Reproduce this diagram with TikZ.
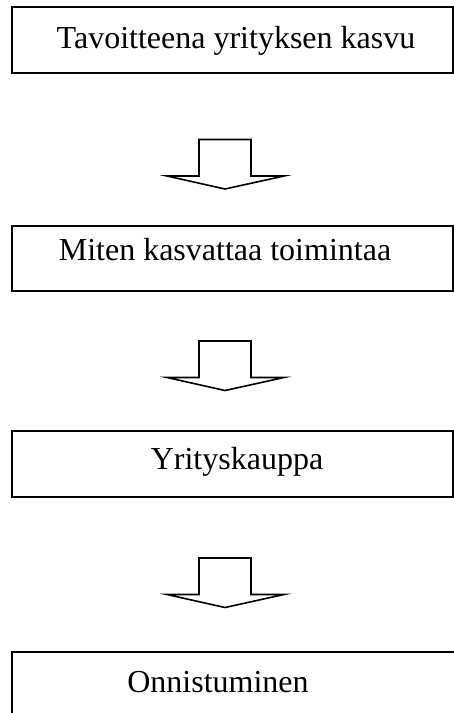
\documentclass[tikz,border=0pt]{standalone}
\usepackage{fontspec}
\setmainfont{Liberation Serif}
\begin{document}
\begin{tikzpicture}[x=1pt,y=-1pt,
  box/.style={draw=black,line width=1.7pt,rectangle,inner sep=0pt,minimum width=441pt},
  lbl/.style={anchor=base,inner sep=0pt,font=\fontsize{32}{38}\selectfont},
  blockarrow/.style={draw=black,line width=1.6pt,fill=white,line join=miter}]
\useasboundingbox (0,0) rectangle (454,713);
\clip (0,0) rectangle (454,713);
% boxes
\node[box,minimum height=66pt] (b1) at (232.5,40) {};
\node[box,minimum height=65pt] (b2) at (232.5,258.5) {};
\node[box,minimum height=66pt] (b3) at (232.5,464) {};
\node[box,minimum height=80pt,minimum width=460pt] (b4) at (242,692) {};
% labels
\node[lbl] (t1) at (236,48) {Tavoitteena yrityksen kasvu};
\node[lbl] (t2) at (225,260) {Miten kasvattaa toimintaa};
\node[lbl] (t3) at (237,469) {Yrityskauppa};
\node[lbl] (t4) at (218,692) {Onnistuminen};
% block arrows
\foreach \n/\yt in {a1/139.5, a2/341, a3/558} {
  \coordinate (\n) at (0,\yt);
  \draw[blockarrow] ([xshift=199pt]\n) -- ++(52,0) -- ++(0,36.5) -- ++(33,0)
     -- ++(-59,13) -- ++(-58,-13) -- ++(32,0) -- cycle;
}
\end{tikzpicture}
\end{document}
